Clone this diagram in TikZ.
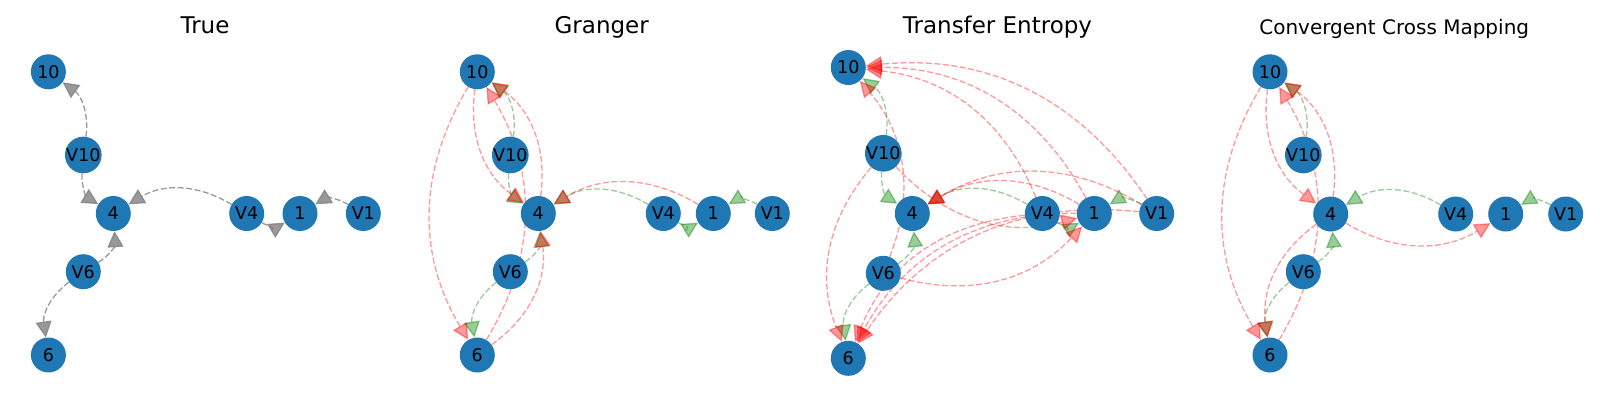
\documentclass[tikz,border=0pt]{standalone}
\usepackage{fontspec}
\setmainfont{DejaVu Sans}
\usetikzlibrary{arrows.meta}
\pgfdeclarelayer{edgelayer}
\pgfsetlayers{edgelayer,main}
\definecolor{nodeblue}{HTML}{1F77B4}
\definecolor{mplgreen}{HTML}{008000}
\definecolor{mplgray}{HTML}{808080}
\definecolor{mplred}{HTML}{FF0000}
\begin{document}
\begin{tikzpicture}[x=1pt,y=-1pt,
  vnode/.style={circle, fill=nodeblue, minimum size=35pt, inner sep=0pt, text=black,
    font=\fontsize{17.5}{19}\selectfont},
  ptitle/.style={anchor=base, font=\fontsize{23}{26}\selectfont},
  stitle/.style={anchor=base, font=\fontsize{20}{23}\selectfont},
  edgebase/.style={line width=1.3pt, dash pattern=on 6pt off 2.5pt,
    -{Triangle[length=16pt,width=16pt]}, bend right=31},
  tedge/.style={edgebase, draw=mplgray, opacity=0.8},
  gedge/.style={edgebase, draw=mplgreen, opacity=0.4},
  redge/.style={edgebase, draw=mplred, opacity=0.4},
]
\useasboundingbox (0,0) rectangle (1600,400);

% ---------- titles
\node[ptitle] (tA) at (205,33.5) {True};
\node[ptitle] (tB) at (601.7,33.5) {Granger};
\node[ptitle] (tC) at (997.5,33.5) {Transfer Entropy};
\node[stitle] (tD) at (1394.2,34) {Convergent Cross Mapping};

% ---------- panel A (True)
\node[vnode] (a10) at (48.4,71.8) {10};
\node[vnode] (aV10) at (83.3,155) {V10};
\node[vnode] (a4) at (113.3,213.5) {4};
\node[vnode] (aV4) at (246.7,213.5) {V4};
\node[vnode] (a1) at (300,213.5) {1};
\node[vnode] (aV1) at (363.3,213.5) {V1};
\node[vnode] (aV6) at (83.3,271.7) {V6};
\node[vnode] (a6) at (48.4,355) {6};

% ---------- panel B (Granger)
\node[vnode] (b10) at (477.3,71.8) {10};
\node[vnode] (bV10) at (510.3,155) {V10};
\node[vnode] (b4) at (538.3,213.5) {4};
\node[vnode] (bV4) at (663.3,213.5) {V4};
\node[vnode] (b1) at (713.3,213.5) {1};
\node[vnode] (bV1) at (772.3,213.5) {V1};
\node[vnode] (bV6) at (510.3,271.7) {V6};
\node[vnode] (b6) at (477.3,355) {6};

% ---------- panel C (Transfer Entropy)
\node[vnode] (c10) at (848.3,67.5) {10};
\node[vnode] (cV10) at (883.3,153.3) {V10};
\node[vnode] (c4) at (912.3,213.5) {4};
\node[vnode] (cV4) at (1042.3,213.5) {V4};
\node[vnode] (c1) at (1094.3,213.5) {1};
\node[vnode] (cV1) at (1156.7,213.5) {V1};
\node[vnode] (cV6) at (883.3,273.3) {V6};
\node[vnode] (c6) at (848.3,358.3) {6};

% ---------- panel D (CCM)
\node[vnode] (d10) at (1270,71.8) {10};
\node[vnode] (dV10) at (1303.3,155) {V10};
\node[vnode] (d4) at (1330.7,214) {4};
\node[vnode] (dV4) at (1455.7,214) {V4};
\node[vnode] (d1) at (1505.7,214) {1};
\node[vnode] (dV1) at (1565.7,214) {V1};
\node[vnode] (dV6) at (1303.3,271.7) {V6};
\node[vnode] (d6) at (1270,355) {6};

\begin{pgfonlayer}{edgelayer}
% True
\draw[tedge] (aV10) to (a10);
\draw[tedge] (aV10) to (a4);
\draw[tedge] (aV4) to (a4);
\draw[tedge] (aV4) to (a1);
\draw[tedge] (aV1) to (a1);
\draw[tedge] (aV6) to (a4);
\draw[tedge] (aV6) to (a6);

% Granger
\draw[gedge] (bV10) to (b10);
\draw[gedge] (bV10) to (b4);
\draw[gedge] (bV4) to (b4);
\draw[gedge] (bV4) to (b1);
\draw[gedge] (bV1) to (b1);
\draw[gedge] (bV6) to (b4);
\draw[gedge] (bV6) to (b6);
\draw[redge] (b10) to (b6);
\draw[redge] (b6) to (b10);
\draw[redge] (b10) to (b4);
\draw[redge] (b4) to (b10);
\draw[redge] (b6) to (b4);
\draw[redge] (b1) to (b4);

% Transfer Entropy
\draw[gedge] (cV10) to (c10);
\draw[gedge] (cV10) to (c4);
\draw[gedge] (cV4) to (c4);
\draw[gedge] (cV4) to (c1);
\draw[gedge] (cV1) to (c1);
\draw[gedge] (cV6) to (c4);
\draw[gedge] (cV6) to (c6);
\draw[redge] (cV1) to (c10);
\draw[redge] (c1) to (c10);
\draw[redge] (cV4) to (c10);
\draw[redge] (cV6) to (c10);
\draw[redge] (cV10) to (c6);
\draw[redge] (cV10) to (c1);
\draw[redge] (c1) to (c4);
\draw[redge] (cV1) to (c4);
\draw[redge] (cV6) to (c1);
\draw[redge] (cV4) to (c6);
\draw[redge] (c1) to (c6);
\draw[redge] (cV1) to (c6);

% CCM
\draw[gedge] (dV10) to (d10);
\draw[gedge] (dV4) to (d4);
\draw[gedge] (dV1) to (d1);
\draw[gedge] (dV6) to (d4);
\draw[gedge] (dV6) to (d6);
\draw[redge] (d10) to (d6);
\draw[redge] (d6) to (d10);
\draw[redge] (d10) to (d4);
\draw[redge] (d4) to (d10);
\draw[redge] (d4) to (d6);
\draw[redge] (d4) to (d1);
\end{pgfonlayer}
\end{tikzpicture}
\end{document}
